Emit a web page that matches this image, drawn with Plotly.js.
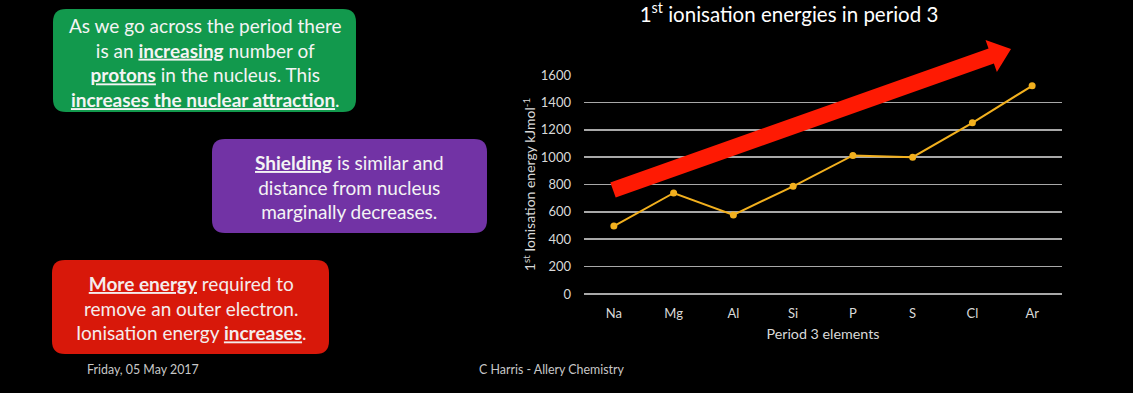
<!DOCTYPE html>
<html>
<head>
<meta charset="utf-8">
<script src="https://cdn.plot.ly/plotly-3.0.1.min.js"></script>
<style>html,body{margin:0;padding:0;background:#000;}#chart{width:1133px;height:393px;}</style>
</head>
<body>
<div id="chart"></div>
<script>
// ---- data ----
const elements = ['Na', 'Mg', 'Al', 'Si', 'P', 'S', 'Cl', 'Ar'];
const ionisationEnergies = [496, 738, 578, 787, 1012, 1000, 1251, 1521];
const yTicks = [0, 200, 400, 600, 800, 1000, 1200, 1400, 1600];

const chartTitle = '1<sup>st</sup> ionisation energies in period 3';
const xTitle = 'Period 3 elements';
const yTitle = '1<sup>st</sup> Ionisation energy kJmol<sup>-1</sup>';
const greenText = 'As we go across the period there<br>is an <b><u>increasing</u></b> number of<br><b><u>protons</u></b> in the nucleus. This<br><b><u>increases the nuclear attraction</u></b>.';
const purpleText = '<b><u>Shielding</u></b> is similar and<br>distance from nucleus<br>marginally decreases.';
const redText = '<b><u>More energy</u></b> required to<br>remove an outer electron.<br>Ionisation energy <b><u>increases</u></b>.';
const dateText = 'Friday, 05 May 2017';
const authorText = 'C Harris - Allery Chemistry';

// ---- layout helpers (pixel -> paper) ----
const W = 1133, H = 393;
const M = {l: 584, r: 71, t: 75, b: 99};
const PW = W - M.l - M.r, PH = H - M.t - M.b;
const px = x => (x - M.l) / PW;
const py = y => (H - M.b - y) / PH;

function roundRect(x0, y0, x1, y1, r) {
  const P = (x, y) => px(x).toFixed(5) + ',' + py(y).toFixed(5);
  return 'M' + P(x0 + r, y0) + ' L' + P(x1 - r, y0) + ' Q' + P(x1, y0) + ' ' + P(x1, y0 + r) +
    ' L' + P(x1, y1 - r) + ' Q' + P(x1, y1) + ' ' + P(x1 - r, y1) +
    ' L' + P(x0 + r, y1) + ' Q' + P(x0, y1) + ' ' + P(x0, y1 - r) +
    ' L' + P(x0, y0 + r) + ' Q' + P(x0, y0) + ' ' + P(x0 + r, y0) + ' Z';
}

function arrowPath(tx, ty, hx, hy, w, L, Hw) {
  const dx = hx - tx, dy = hy - ty, len = Math.hypot(dx, dy);
  const d = [dx / len, dy / len], n = [-d[1], d[0]];
  const bx = hx - L * d[0], by = hy - L * d[1];
  const pts = [
    [tx - w * n[0], ty - w * n[1]],
    [bx - w * n[0], by - w * n[1]],
    [bx - Hw * n[0], by - Hw * n[1]],
    [hx, hy],
    [bx + Hw * n[0], by + Hw * n[1]],
    [bx + w * n[0], by + w * n[1]],
    [tx + w * n[0], ty + w * n[1]]
  ];
  return 'M' + pts.map(p => px(p[0]).toFixed(5) + ',' + py(p[1]).toFixed(5)).join(' L') + ' Z';
}

const FONT = 'Lato, "Open Sans", sans-serif';

const trace = {
  type: 'scatter', mode: 'lines+markers',
  x: elements, y: ionisationEnergies,
  line: {color: '#f2b01e', width: 2},
  marker: {color: '#f2b01e', size: 7},
  hoverinfo: 'x+y'
};

const layout = {
  width: W, height: H,
  paper_bgcolor: '#000', plot_bgcolor: '#000',
  margin: M,
  showlegend: false,
  font: {family: FONT, color: '#d9d9d9'},
  title: {
    text: chartTitle, xref: 'container', yref: 'container',
    x: 789 / W, xanchor: 'center', y: 1 - 14.5 / H, yanchor: 'middle',
    font: {family: FONT, size: 20.5, color: '#ffffff'}
  },
  xaxis: {
    type: 'category', range: [-0.5, 7.5], fixedrange: true,
    showgrid: false, zeroline: false, showline: false, ticks: '',
    ticklabelstandoff: 10,
    tickfont: {family: FONT, size: 13, color: '#d9d9d9'},
    title: {text: xTitle, font: {family: FONT, size: 14.3, color: '#d9d9d9'}, standoff: 8},
    automargin: false
  },
  yaxis: {
    range: [0, 1600], fixedrange: true,
    tickvals: yTicks, ticktext: yTicks.map(String),
    showgrid: true, gridcolor: '#a8a8a8', gridwidth: 1.7,
    zeroline: true, zerolinecolor: '#a8a8a8', zerolinewidth: 1.7,
    showline: false, ticks: '', ticklabelstandoff: 12,
    tickfont: {family: FONT, size: 13, color: '#d9d9d9'},
    title: {text: yTitle, font: {family: FONT, size: 14, color: '#d9d9d9'}, standoff: 1},
    automargin: false
  },
  shapes: [
    {type: 'path', xref: 'paper', yref: 'paper', layer: 'above',
     path: roundRect(53, 9, 356, 112, 13), fillcolor: '#12994d', line: {width: 0}},
    {type: 'path', xref: 'paper', yref: 'paper', layer: 'above',
     path: roundRect(212, 139, 487, 233, 13), fillcolor: '#7233a5', line: {width: 0}},
    {type: 'path', xref: 'paper', yref: 'paper', layer: 'above',
     path: roundRect(52, 260, 329, 354, 13), fillcolor: '#d8180a', line: {width: 0}},
    {type: 'path', xref: 'paper', yref: 'paper', layer: 'above',
     path: arrowPath(613, 190, 1011, 49, 8, 21, 17), fillcolor: '#fe1a03', line: {width: 0}}
  ],
  annotations: [
    {xref: 'paper', yref: 'paper', x: px(205), y: py(62), xanchor: 'center', yanchor: 'middle',
     showarrow: false, align: 'center', text: greenText,
     font: {family: FONT, size: 19, color: '#f4f4f4'}},
    {xref: 'paper', yref: 'paper', x: px(349), y: py(187), xanchor: 'center', yanchor: 'middle',
     showarrow: false, align: 'center', text: purpleText,
     font: {family: FONT, size: 19, color: '#f4f4f4'}},
    {xref: 'paper', yref: 'paper', x: px(191), y: py(308), xanchor: 'center', yanchor: 'middle',
     showarrow: false, align: 'center', text: redText,
     font: {family: FONT, size: 19, color: '#f4ecec'}},
    {xref: 'paper', yref: 'paper', x: px(143), y: py(369), xanchor: 'center', yanchor: 'middle',
     showarrow: false, text: dateText, font: {family: FONT, size: 12.4, color: '#c8c8c8'}},
    {xref: 'paper', yref: 'paper', x: px(552), y: py(369), xanchor: 'center', yanchor: 'middle',
     showarrow: false, text: authorText, font: {family: FONT, size: 12.4, color: '#c8c8c8'}}
  ]
};

Plotly.newPlot('chart', [trace], layout, {displayModeBar: false, staticPlot: true});
</script>
</body>
</html>
